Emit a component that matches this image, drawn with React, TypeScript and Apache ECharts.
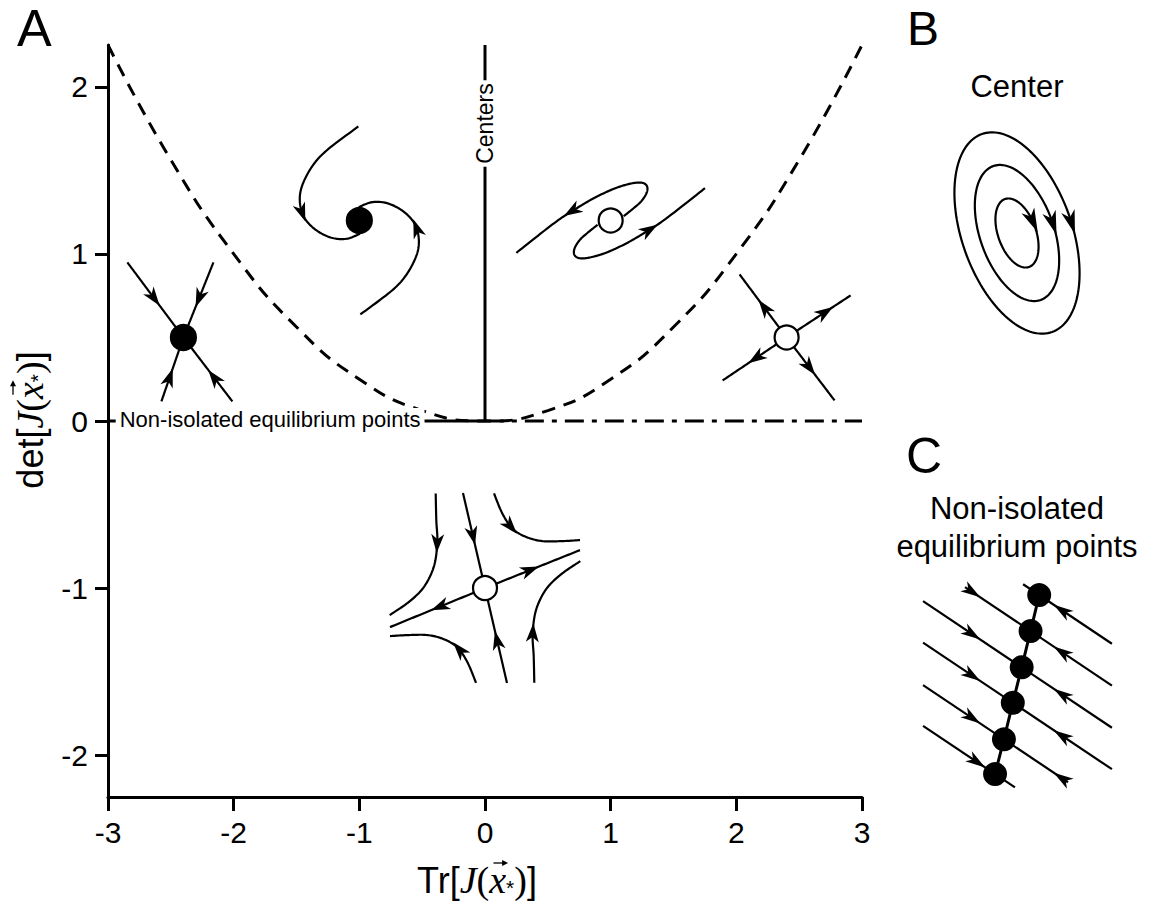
import React, { useEffect, useRef } from 'react';
import * as echarts from 'echarts';

const SANS = '"Liberation Sans", Arial, Helvetica, sans-serif';
const SERIF = '"Liberation Serif", "Times New Roman", serif';

type Pt = [number, number];

// ---- Trace–determinant plane -------------------------------------------
const yTickValues = [-2, -1, 0, 1, 2];

// Node / spiral boundary det = Tr²/4, read at half-unit steps
const parabolaTr = [-3, -2.5, -2, -1.5, -1, -0.5, 0, 0.5, 1, 1.5, 2, 2.5, 3];
const parabolaDet = [2.25, 1.5625, 1, 0.5625, 0.25, 0.0625, 0, 0.0625, 0.25, 0.5625, 1, 1.5625, 2.25];

// det = 0 line: solid on the left, dash-dot on the right
const zeroSolidTr = [-3, 0.15];
const zeroDashTr = [0.15, 3];
// Tr = 0 half-line of centers
const centersDet = [0, 2.25];

// Representative equilibria drawn in each region
const eqKinds = ['stableNode', 'stableSpiral', 'unstableSpiral', 'unstableNode', 'saddle'];
const eqTr = [-2.4, -1, 1, 2.4, 0];
const eqDet = [0.5, 1.2, 1.2, 0.5, -1];

// In-plot labels
const centersLabelAt: Pt = [0, 1.78];
const nonIsoLabelAt: Pt = [-1.71, 0];

// ---- Panel B: closed orbits around a center -----------------------------
const orbitMajor = [105, 71, 36];
const orbitMinor = [55, 37, 19];
const orbitTiltDeg = 19.5;
const orbitArrowDy = -11;

// ---- Panel C: a line of non-isolated equilibria -------------------------
const lineEqX = [5.8, 5.44, 5.07, 4.7, 4.33, 3.96];
const lineEqY = [1.46, 2.96, 4.47, 5.95, 7.47, 8.92];
const flowStartX = [5.13, 2.71, 0.96, 0.96, 0.96, 0.96];
const flowEndX = [8.83, 8.83, 8.83, 8.83, 7.0, 4.79];
const flowInArrowX: (number | null)[] = [null, 3.0, 3.0, 3.0, 3.0, 3.2];
const flowOutArrowX: (number | null)[] = [6.75, 6.75, 6.75, 6.75, 6.75, null];
const flowSlope = 0.67;

// ---- geometry helpers -----------------------------------------------------
function densify(pts: Pt[]): Pt[] {
  const out: Pt[] = [];
  if (pts.length < 3) {
    const [a, b] = pts;
    for (let i = 0; i <= 40; i++) {
      const t = i / 40;
      out.push([a[0] + (b[0] - a[0]) * t, a[1] + (b[1] - a[1]) * t]);
    }
    return out;
  }
  const n = 14;
  for (let i = 0; i < pts.length - 1; i++) {
    const p0 = pts[Math.max(i - 1, 0)];
    const p1 = pts[i];
    const p2 = pts[i + 1];
    const p3 = pts[Math.min(i + 2, pts.length - 1)];
    for (let j = 0; j < n; j++) {
      const t = j / n;
      const t2 = t * t;
      const t3 = t2 * t;
      const f = (a: number, b: number, c: number, d: number) =>
        0.5 * (2 * b + (-a + c) * t + (2 * a - 5 * b + 4 * c - d) * t2 + (-a + 3 * b - 3 * c + d) * t3);
      out.push([f(p0[0], p1[0], p2[0], p3[0]), f(p0[1], p1[1], p2[1], p3[1])]);
    }
  }
  out.push(pts[pts.length - 1]);
  return out;
}

function arrowHead(p: Pt, d: Pt, len: number, half: number): Pt[] {
  const L = Math.hypot(d[0], d[1]) || 1;
  const ux = d[0] / L;
  const uy = d[1] / L;
  const nx = -uy;
  const ny = ux;
  const tip: Pt = [p[0] + (ux * len) / 2, p[1] + (uy * len) / 2];
  const back: Pt = [p[0] - (ux * len) / 2, p[1] - (uy * len) / 2];
  const notch: Pt = [back[0] + ux * len * 0.28, back[1] + uy * len * 0.28];
  return [tip, [back[0] + nx * half, back[1] + ny * half], notch, [back[0] - nx * half, back[1] - ny * half]];
}

function arrowOnCurve(s: Pt[], target: Pt, len: number, half: number): Pt[] {
  let best = 0;
  let bd = Infinity;
  s.forEach((q, k) => {
    const dd = (q[0] - target[0]) ** 2 + (q[1] - target[1]) ** 2;
    if (dd < bd) {
      bd = dd;
      best = k;
    }
  });
  const a = s[Math.max(best - 1, 0)];
  const b = s[Math.min(best + 1, s.length - 1)];
  return arrowHead(s[best], [b[0] - a[0], b[1] - a[1]], len, half);
}

const neg = (pts: Pt[]): Pt[] => pts.map(([x, y]) => [-x, -y] as Pt);

// ---- phase-portrait glyphs (pixel offsets from the equilibrium, y down) ---
const spiralInArm: Pt[] = [
  [-1, -94], [-32.7, -70], [-47.7, -53.3], [-57.7, -33.3], [-59.3, -16.7], [-54.3, -1.7],
  [-42.7, 10], [-27.7, 17.3], [-12.7, 18.3], [0.7, 13.3],
];
const spiralOutArm: Pt[] = [
  [13, -4.3], [22.3, -11.7], [30.7, -19.3], [36, -27.7], [36.3, -34.3], [31.3, -37.7], [20.7, -37],
  [4, -32], [-16, -22.7], [-36, -11], [-56, 2.3], [-94.3, 32.3],
];
const saddleArcA: Pt[] = [
  [-49.3, -94.7], [-48.7, -68], [-47.7, -46.3], [-51, -22], [-61, -1.3], [-76, 13.7], [-95.3, 27],
];
const saddleArcB: Pt[] = [
  [9, -94.7], [17.3, -74.7], [27.3, -59.7], [40.7, -51.3], [57.3, -47], [77.3, -47], [95, -48],
];

interface Glyph {
  curves: Pt[][];
  arrows: [number, Pt][];
  filled: boolean;
}

const glyphs: Record<string, Glyph> = {
  stableNode: {
    curves: [[[-56, -75], [0, 0]], [[30, -75], [0, 0]], [[-22, 64], [0, 0]], [[49, 64], [0, 0]]],
    arrows: [[0, [-28, -39]], [1, [16, -40]], [2, [-14, 40]], [3, [31, 40]]],
    filled: true,
  },
  stableSpiral: {
    curves: [spiralInArm, neg(spiralInArm)],
    arrows: [[0, [-58, -8]], [1, [58, 8]]],
    filled: true,
  },
  unstableSpiral: {
    curves: [spiralOutArm, neg(spiralOutArm)],
    arrows: [[0, [-39, -9]], [1, [39, 9]]],
    filled: false,
  },
  unstableNode: {
    curves: [[[0, 0], [-47, -63]], [[0, 0], [64, -42]], [[0, 0], [-64, 43]], [[0, 0], [48, 63]]],
    arrows: [[0, [-22, -31]], [1, [38, -25]], [2, [-30, 20]], [3, [23, 31]]],
    filled: false,
  },
  saddle: {
    curves: [
      [[-22, -95], [0, 0]],
      [[22, 95], [0, 0]],
      [[0, 0], [-95, 39]],
      [[0, 0], [95, -38]],
      saddleArcA,
      saddleArcB,
      neg(saddleArcA),
      neg(saddleArcB),
    ],
    arrows: [
      [0, [-13, -52]], [1, [13, 52]], [2, [-45, 18]], [3, [45, -18]],
      [4, [-47.5, -45]], [5, [25, -61]], [6, [47.5, 45]], [7, [-25, 61]],
    ],
    filled: false,
  },
};

const BLACK = '#000';

function glyphRenderer(params: any, api: any) {
  const c = api.coord([api.value(0), api.value(1)]);
  const g = glyphs[eqKinds[params.dataIndex]];
  const children: any[] = [];
  const dense = g.curves.map((cv) => densify(cv).map((p) => [c[0] + p[0], c[1] + p[1]] as Pt));
  dense.forEach((s) => {
    children.push({
      type: 'polyline',
      shape: { points: s },
      style: { stroke: BLACK, lineWidth: 2.2, fill: 'none' },
    });
  });
  g.arrows.forEach(([ci, t]) => {
    children.push({
      type: 'polygon',
      shape: { points: arrowOnCurve(dense[ci], [c[0] + t[0], c[1] + t[1]], 19, 6.5) },
      style: { fill: BLACK, stroke: 'none' },
    });
  });
  children.push({
    type: 'circle',
    shape: { cx: c[0], cy: c[1], r: g.filled ? 12.5 : 12 },
    style: { fill: g.filled ? BLACK : '#fff', stroke: BLACK, lineWidth: 2.2 },
  });
  return { type: 'group', children };
}

function orbitRenderer(params: any, api: any) {
  const cx = api.value(0);
  const cy = api.value(1);
  const a = api.value(2);
  const b = api.value(3);
  const al = (orbitTiltDeg * Math.PI) / 180;
  const u: Pt = [-Math.sin(al), -Math.cos(al)];
  const v: Pt = [Math.cos(al), -Math.sin(al)];
  const pts: Pt[] = [];
  const N = 160;
  for (let k = 0; k <= N; k++) {
    const f = (2 * Math.PI * k) / N;
    pts.push(
      api.coord([
        cx + a * Math.cos(f) * u[0] + b * Math.sin(f) * v[0],
        cy + a * Math.cos(f) * u[1] + b * Math.sin(f) * v[1],
      ])
    );
  }
  const c0 = api.coord([cx, cy]);
  const ty = api.coord([cx, cy + orbitArrowDy])[1];
  let best = 1;
  let bd = Infinity;
  for (let k = 1; k < N; k++) {
    if (pts[k][0] > c0[0] && Math.abs(pts[k][1] - ty) < bd) {
      bd = Math.abs(pts[k][1] - ty);
      best = k;
    }
  }
  const d: Pt = [pts[best + 1][0] - pts[best - 1][0], pts[best + 1][1] - pts[best - 1][1]];
  return {
    type: 'group',
    children: [
      { type: 'polyline', shape: { points: pts }, style: { stroke: BLACK, lineWidth: 2.2, fill: 'none' } },
      { type: 'polygon', shape: { points: arrowHead(pts[best], d, 24, 7) }, style: { fill: BLACK } },
    ],
  };
}

function flowRenderer(params: any, api: any) {
  const i = params.dataIndex;
  const x0 = lineEqX[i];
  const y0 = lineEqY[i];
  const at = (x: number): Pt => api.coord([x, y0 + flowSlope * (x - x0)]);
  const p1 = at(flowStartX[i]);
  const p2 = at(flowEndX[i]);
  const children: any[] = [
    {
      type: 'line',
      shape: { x1: p1[0], y1: p1[1], x2: p2[0], y2: p2[1] },
      style: { stroke: BLACK, lineWidth: 2.2 },
    },
  ];
  const inX = flowInArrowX[i];
  const outX = flowOutArrowX[i];
  if (inX !== null) {
    children.push({ type: 'polygon', shape: { points: arrowHead(at(inX), [1, flowSlope], 20, 6) }, style: { fill: BLACK } });
  }
  if (outX !== null) {
    children.push({ type: 'polygon', shape: { points: arrowHead(at(outX), [-1, -flowSlope], 20, 6) }, style: { fill: BLACK } });
  }
  return { type: 'group', children };
}

// ---- axis titles: Tr[J(x⃗*)] and det[J(x⃗*)] ------------------------------
interface Piece {
  text: string;
  family: string;
  size: number;
  italic?: boolean;
  dy?: number;
  vec?: boolean;
}

const measureCtx = typeof document !== 'undefined' ? document.createElement('canvas').getContext('2d') : null;
function textWidth(p: Piece): number {
  if (!measureCtx) return p.size * 0.5 * p.text.length;
  measureCtx.font = `${p.italic ? 'italic ' : ''}${p.size}px ${p.family}`;
  return measureCtx.measureText(p.text).width;
}

function jacobianPieces(head: string): Piece[] {
  return [
    { text: head, family: SANS, size: 36 },
    { text: 'J', family: SERIF, size: 38, italic: true },
    { text: '(', family: SERIF, size: 38 },
    { text: 'x', family: SERIF, size: 38, italic: true, vec: true },
    { text: '*', family: SANS, size: 21, dy: 7 },
    { text: ')', family: SERIF, size: 38 },
    { text: ']', family: SANS, size: 36 },
  ];
}

function axisTitle(head: string, cx: number, cy: number, rotation: number) {
  const pieces = jacobianPieces(head);
  const widths = pieces.map(textWidth);
  const total = widths.reduce((s, w) => s + w, 0);
  let x = -total / 2;
  const children: any[] = [];
  pieces.forEach((p, i) => {
    children.push({
      type: 'text',
      x,
      y: p.dy || 0,
      style: {
        text: p.text,
        fontFamily: p.family,
        fontSize: p.size,
        fontStyle: p.italic ? 'italic' : 'normal',
        fill: BLACK,
        align: 'left',
        verticalAlign: 'middle',
      },
    });
    if (p.vec) {
      const x1 = x + widths[i] * 0.25;
      const x2 = x + widths[i] + 2;
      const ay = -17;
      children.push({ type: 'line', shape: { x1, y1: ay, x2: x2 - 3, y2: ay }, style: { stroke: BLACK, lineWidth: 1.3 } });
      children.push({ type: 'polygon', shape: { points: [[x2, ay], [x2 - 6, ay - 3], [x2 - 6, ay + 3]] }, style: { fill: BLACK } });
    }
    x += widths[i];
  });
  return { type: 'group', x: cx, y: cy, rotation, children };
}

function buildOption(): any {
  const axisLineStyle = { color: BLACK, width: 3 };
  return {
    animation: false,
    backgroundColor: '#fff',
    grid: [
      { left: 108, top: 45, width: 754, height: 752, containLabel: false, outerBoundsMode: 'none' },
      { left: 917, top: 133, width: 200, height: 200, containLabel: false, outerBoundsMode: 'none' },
      { left: 900, top: 560, width: 240, height: 240, containLabel: false, outerBoundsMode: 'none' },
    ],
    xAxis: [
      {
        type: 'value',
        gridIndex: 0,
        min: -3,
        max: 3,
        interval: 1,
        axisLine: { onZero: false, lineStyle: axisLineStyle },
        axisTick: { length: 14, lineStyle: axisLineStyle },
        axisLabel: { fontFamily: SANS, fontSize: 30, color: BLACK, margin: 20 },
        splitLine: { show: false },
      },
      { type: 'value', gridIndex: 1, min: -100, max: 100, show: false },
      { type: 'value', gridIndex: 2, min: 0, max: 10, show: false },
    ],
    yAxis: [
      {
        type: 'value',
        gridIndex: 0,
        min: -2.25,
        max: 2.25,
        axisLine: { onZero: false, lineStyle: axisLineStyle },
        axisTick: { length: 13, lineStyle: axisLineStyle, customValues: yTickValues },
        axisLabel: { fontFamily: SANS, fontSize: 30, color: BLACK, margin: 20, customValues: yTickValues },
        splitLine: { show: false },
      },
      { type: 'value', gridIndex: 1, min: -100, max: 100, inverse: true, show: false },
      { type: 'value', gridIndex: 2, min: 0, max: 10, inverse: true, show: false },
    ],
    series: [
      {
        type: 'line',
        data: parabolaTr.map((t, i) => [t, parabolaDet[i]]),
        smooth: true,
        symbol: 'none',
        silent: true,
        z: 2,
        lineStyle: { color: BLACK, width: 3, type: [13, 9] },
      },
      {
        type: 'line',
        data: zeroSolidTr.map((t) => [t, 0]),
        symbol: 'none',
        silent: true,
        z: 2,
        lineStyle: { color: BLACK, width: 3 },
      },
      {
        type: 'line',
        data: zeroDashTr.map((t) => [t, 0]),
        symbol: 'none',
        silent: true,
        z: 2,
        lineStyle: { color: BLACK, width: 3, type: [19, 8, 5, 8], dashOffset: 19 },
      },
      {
        type: 'line',
        data: centersDet.map((d) => [0, d]),
        symbol: 'none',
        silent: true,
        z: 2,
        lineStyle: { color: BLACK, width: 3 },
      },
      {
        type: 'scatter',
        silent: true,
        z: 5,
        symbol: 'circle',
        symbolSize: 1,
        itemStyle: { color: 'rgba(0,0,0,0)' },
        label: {
          show: true,
          position: 'inside',
          fontFamily: SANS,
          color: BLACK,
          opacity: 1,
          textBorderWidth: 0,
          backgroundColor: '#fff',
        },
        data: [
          { value: centersLabelAt, label: { formatter: 'Centers', rotate: 90, fontSize: 23, padding: [0, 3] } },
          {
            value: nonIsoLabelAt,
            label: { formatter: 'Non-isolated equilibrium points', fontSize: 22, padding: [0, 4], offset: [0, -2] },
          },
        ],
      },
      {
        type: 'custom',
        silent: true,
        z: 10,
        renderItem: glyphRenderer,
        data: eqTr.map((t, i) => [t, eqDet[i]]),
      },
      {
        type: 'custom',
        silent: true,
        xAxisIndex: 1,
        yAxisIndex: 1,
        renderItem: orbitRenderer,
        data: orbitMajor.map((a, i) => [0, 0, a, orbitMinor[i]]),
      },
      {
        type: 'custom',
        silent: true,
        xAxisIndex: 2,
        yAxisIndex: 2,
        z: 2,
        renderItem: flowRenderer,
        data: lineEqX.map((x, i) => [x, lineEqY[i]]),
      },
      {
        type: 'line',
        silent: true,
        xAxisIndex: 2,
        yAxisIndex: 2,
        z: 3,
        symbol: 'none',
        lineStyle: { color: BLACK, width: 3 },
        data: lineEqX.map((x, i) => [x, lineEqY[i]]),
      },
      {
        type: 'scatter',
        silent: true,
        xAxisIndex: 2,
        yAxisIndex: 2,
        z: 4,
        symbolSize: 24,
        itemStyle: { color: BLACK, opacity: 1 },
        data: lineEqX.map((x, i) => [x, lineEqY[i]]),
      },
    ],
    graphic: [
      axisTitle('Tr[', 477, 880, 0),
      axisTitle('det[', 30, 420, Math.PI / 2),
      { type: 'text', x: 17, y: 28, style: { text: 'A', fontFamily: SANS, fontSize: 52, fill: BLACK, align: 'left', verticalAlign: 'middle' } },
      { type: 'text', x: 907, y: 28, style: { text: 'B', fontFamily: SANS, fontSize: 48, fill: BLACK, align: 'left', verticalAlign: 'middle' } },
      { type: 'text', x: 906, y: 456, style: { text: 'C', fontFamily: SANS, fontSize: 50, fill: BLACK, align: 'left', verticalAlign: 'middle' } },
      { type: 'text', x: 1017, y: 86, style: { text: 'Center', fontFamily: SANS, fontSize: 31, fill: BLACK, align: 'center', verticalAlign: 'middle' } },
      { type: 'text', x: 1017, y: 508, style: { text: 'Non-isolated', fontFamily: SANS, fontSize: 31, fill: BLACK, align: 'center', verticalAlign: 'middle' } },
      { type: 'text', x: 1017, y: 546, style: { text: 'equilibrium points', fontFamily: SANS, fontSize: 31, fill: BLACK, align: 'center', verticalAlign: 'middle' } },
    ],
  };
}

export default function App() {
  const ref = useRef<HTMLDivElement>(null);
  useEffect(() => {
    if (!ref.current) return;
    const chart = echarts.init(ref.current, undefined, { renderer: 'svg' });
    chart.setOption(buildOption());
    return () => chart.dispose();
  }, []);
  return (
    <div
      ref={ref}
      style={{ position: 'fixed', left: 0, top: 0, width: 1150, height: 913, background: '#fff' }}
    />
  );
}
